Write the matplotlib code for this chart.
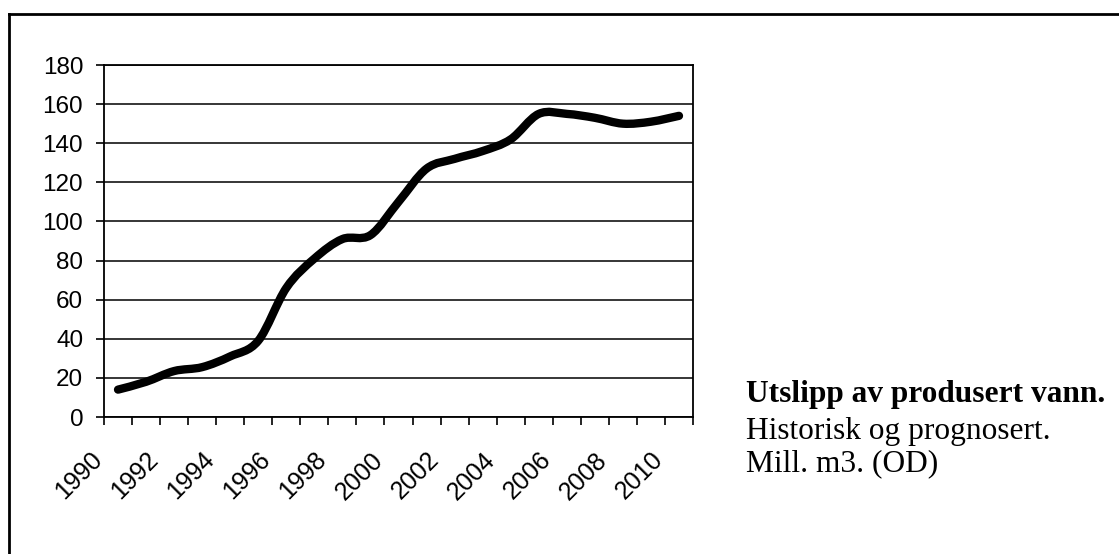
import matplotlib
matplotlib.use("Agg")
import matplotlib.pyplot as plt
import numpy as np
from matplotlib.path import Path
from matplotlib.patches import PathPatch
from matplotlib.lines import Line2D
from matplotlib.transforms import ScaledTranslation

# data (mill. m3)
years = list(range(1990, 2011))
water = [14, 18, 23.5, 25.5, 31, 39, 66, 81, 91, 93, 110,
         127, 132, 136, 142, 155, 155, 153, 150, 151, 154]
label_years = years[::2]
y_ticks = list(range(0, 181, 20))

title = "Utslipp av produsert vann."
lines = ["Historisk og prognosert.", "Mill. m3. (OD)"]

W, H = 1119, 554
fig = plt.figure(figsize=(W / 100, H / 100), dpi=100)
fig.patch.set_facecolor("white")

# outer frame of the scanned box (left and top edges only visible)
fig.add_artist(Line2D([9 / W, 9 / W], [0, 1 - 14 / H], transform=fig.transFigure,
                      color="black", lw=2, solid_capstyle="projecting"))
fig.add_artist(Line2D([9 / W, 1], [1 - 14 / H, 1 - 14 / H], transform=fig.transFigure,
                      color="black", lw=2, solid_capstyle="projecting"))

ax = fig.add_axes([104 / W, 1 - 417 / H, (693 - 104) / W, (417 - 65) / H])

# smoothed line (excel style): cubic bezier through each point
x = np.arange(len(years))
pts = np.column_stack([x, water]).astype(float)
n = len(pts)
verts = [pts[0]]
codes = [Path.MOVETO]
for i in range(n - 1):
    p0 = pts[max(i - 1, 0)]
    p1 = pts[i]
    p2 = pts[i + 1]
    p3 = pts[min(i + 2, n - 1)]
    verts += [p1 + (p2 - p0) / 6, p2 - (p3 - p1) / 6, p2]
    codes += [Path.CURVE4] * 3
ax.add_patch(PathPatch(Path(verts, codes), fill=False, lw=6, edgecolor="black",
                       capstyle="round", joinstyle="round", zorder=3))

ax.set_xlim(-0.5, len(years) - 0.5)
ax.set_ylim(0, 180)

# boundary ticks between categories, labels every second year
ax.set_xticks(np.arange(-0.5, len(years), 1.0), minor=True)
ax.set_xticks([years.index(y) for y in label_years])
ax.set_xticklabels([str(y) for y in label_years], rotation=45, ha="right",
                   fontsize=18, family="Liberation Sans")
ax.tick_params(axis="x", which="minor", direction="out", length=6, width=1.2)
ax.tick_params(axis="x", which="major", length=0, pad=22)
offset = ScaledTranslation(-11 / 100, 0, fig.dpi_scale_trans)
for lbl in ax.get_xticklabels():
    lbl.set_transform(lbl.get_transform() + offset)

ax.set_yticks(y_ticks)
ax.set_yticklabels([str(v) for v in y_ticks], fontsize=17.5, family="Liberation Sans")
ax.tick_params(axis="y", direction="out", length=6, width=1.2, pad=9)

ax.yaxis.grid(True, color="black", lw=1.1)
ax.set_axisbelow(True)
for s in ax.spines.values():
    s.set_color("black")
    s.set_linewidth(1.3)

# caption to the right
tx = 746 / W
fig.text(tx, 1 - 401.7 / H, title, fontsize=22.6, fontweight="bold",
         family="Liberation Serif", va="baseline")
fig.text(tx, 1 - 439.3 / H, lines[0], fontsize=22.6, family="Liberation Serif", va="baseline")
fig.text(tx, 1 - 471 / H, lines[1], fontsize=22.6, family="Liberation Serif", va="baseline")

fig.savefig("out.png", dpi=100)
